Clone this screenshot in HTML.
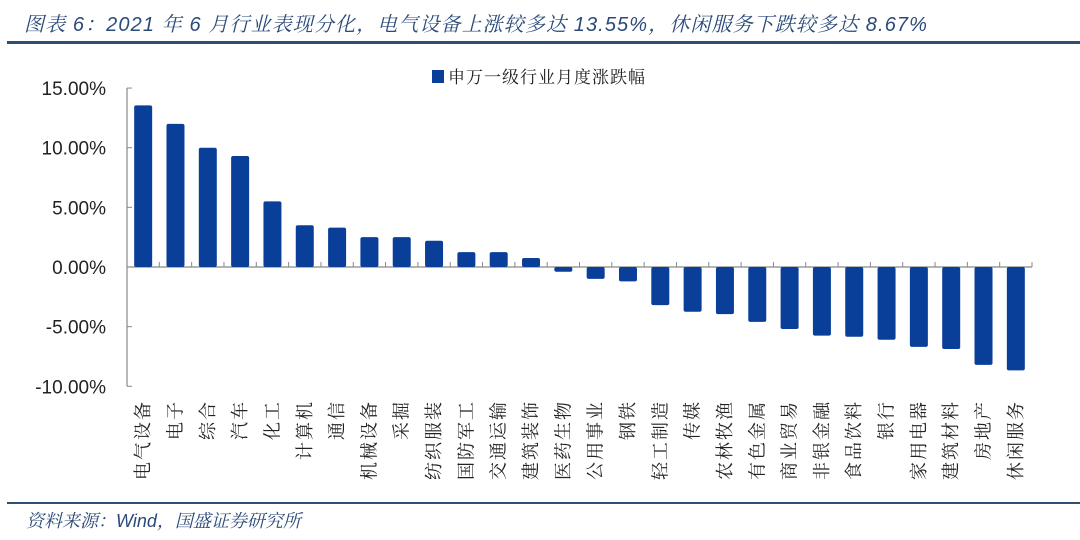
<!DOCTYPE html>
<html><head><meta charset="utf-8"><style>
body{margin:0;background:#fff;width:1080px;height:540px;overflow:hidden;font-family:"Liberation Sans","Noto Sans CJK SC",sans-serif}
.t{position:absolute;font-style:italic;color:#2b4a7a}
</style></head><body>
<div class="t" style="left:24px;top:8px;font-size:20px;letter-spacing:1.1px;font-family:'Liberation Sans','Noto Serif CJK SC',serif">图表 6：2021 年 6 月行业表现分化，电气设备上涨较多达 13.55%，休闲服务下跌较多达 8.67%</div>
<div style="position:absolute;left:7px;top:41px;width:1073px;height:3px;background:#2e4f72"></div>
<div style="position:absolute;left:7px;top:502px;width:1073px;height:2px;background:#2e4f72"></div>
<div class="t" style="left:26px;top:507px;font-size:18px;font-family:'Liberation Sans','Noto Serif CJK SC',serif">资料来源：Wind，国盛证券研究所</div>
<svg id="c" width="1080" height="540" style="position:absolute;left:0;top:0"></svg>
<script>
const categories=["电气设备","电子","综合","汽车","化工","计算机","通信","机械设备","采掘","纺织服装","国防军工","交通运输","建筑装饰","医药生物","公用事业","钢铁","轻工制造","传媒","农林牧渔","有色金属","商业贸易","非银金融","食品饮料","银行","家用电器","建筑材料","房地产","休闲服务"];
const values=[13.55,12.0,10.0,9.3,5.5,3.5,3.3,2.5,2.5,2.2,1.25,1.25,0.75,-0.4,-1.0,-1.2,-3.2,-3.75,-3.95,-4.6,-5.2,-5.75,-5.85,-6.1,-6.7,-6.87,-8.2,-8.67];
const ticks=[15,10,5,0,-5,-10];
const tickLabels=["15.00%","10.00%","5.00%","0.00%","-5.00%","-10.00%"];
const NS="http://www.w3.org/2000/svg",svg=document.getElementById('c');
const x0=127,x1=1032,y=v=>267-v*11.93,step=(x1-x0)/categories.length,bx=i=>x0+step*i+step/2;
function mk(t,a){const e=document.createElementNS(NS,t);for(const k in a)e.setAttribute(k,a[k]);svg.appendChild(e);return e;}
let ax=mk('line',{x1:x0,x2:x0,y1:y(15),y2:y(-10),stroke:'#888','stroke-width':1.2});

ticks.forEach((t,i)=>{mk('line',{x1:x0,x2:x0+5,y1:y(t),y2:y(t),stroke:'#888'});
 const l=mk('text',{x:106,y:y(t)+7,'text-anchor':'end','font-size':19,fill:'#222'});l.textContent=tickLabels[i];
 });
let za=mk('line',{x1:x0,x2:x1,y1:y(0),y2:y(0),stroke:'#888','stroke-width':1.2});

categories.forEach((c,i)=>{const xx=x0+step*(i+1);mk('line',{x1:xx,x2:xx,y1:y(0)-5,y2:y(0),stroke:'#888'});
 const v=values[i],top=Math.min(y(v),y(0)),h=Math.max(Math.abs(y(v)-y(0)),2);
 const r=mk('rect',{x:bx(i)-9,y:top,width:18,height:h,rx:2,fill:'#0a3f99'});
 
 const lx=bx(i)+6,ly=400;
 const t=mk('text',{x:lx,y:ly,transform:`rotate(-90 ${lx} ${ly})`,'text-anchor':'end','font-size':18,fill:'#222','letter-spacing':2,'font-family':'"Noto Serif CJK SC",serif'});
 t.textContent=c;});
const lg=mk('rect',{x:432,y:70,width:12,height:13,fill:'#0a3f99'});

const lt=mk('text',{x:448,y:83,'font-size':17,fill:'#222','letter-spacing':1,'font-family':'"Noto Serif CJK SC",serif'});lt.textContent='申万一级行业月度涨跌幅';

</script>
</body></html>
